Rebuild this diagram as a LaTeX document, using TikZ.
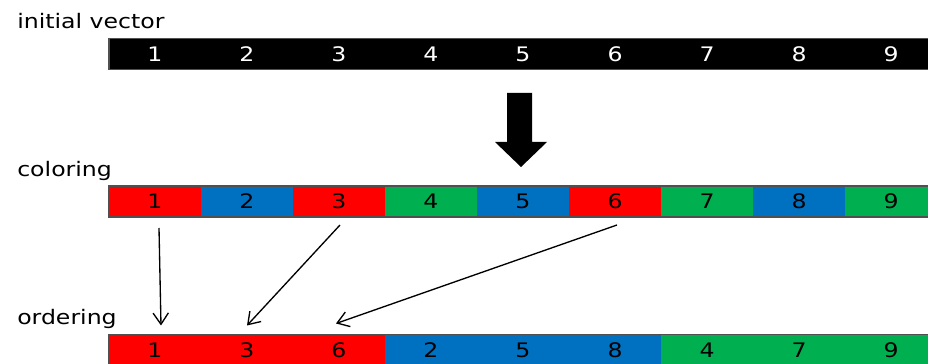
\documentclass[tikz,border=0pt]{standalone}
\usepackage{fontspec}
\setmainfont{DejaVu Sans}[FakeStretch=1.18]
\usetikzlibrary{arrows.meta,positioning}
\definecolor{cred}{HTML}{FF0000}
\definecolor{cblue}{HTML}{0070C0}
\definecolor{cgreen}{HTML}{00B050}
\definecolor{rim}{HTML}{505050}

\begin{document}
\begin{tikzpicture}[x=0.75pt,y=0.75pt,font=\fontsize{15}{18}\selectfont,
  cell/.style={anchor=west,minimum width=69pt,minimum height=23.25pt,inner sep=0pt,outer sep=0pt,text depth=0pt},
  rowname/.style={anchor=base west,inner sep=0pt},
  barrim/.style={draw=rim,line width=0.9pt},
  mapto/.style={-{Straight Barb[length=8.5pt,width=11.5pt]},line width=1pt}]
  \useasboundingbox (0,0) rectangle (928,364);
  \clip (0,0) rectangle (928,364);

  % initial vector
  \node[rowname] (lblinit) at (17,335.5) {initial vector};
  \foreach \k in {1,...,9}
    \node[cell,fill=black,text=white] (i\k) at ({109+92*(\k-1)},310) {\k};
  \draw[barrim] (i1.north west) rectangle (i9.south east);

  % big arrow down
  \fill (507,271) -- (532,271) -- (532,222) -- (547,222) -- (521,197)
    -- (495,222) -- (507,222) -- cycle;

  % coloring
  \node[rowname] (lblcol) at (17,187) {coloring};
  \foreach \n/\c [count=\k] in {1/cred,2/cblue,3/cred,4/cgreen,5/cblue,6/cred,7/cgreen,8/cblue,9/cgreen}
    \node[cell,fill=\c] (c\k) at ({109+92*(\k-1)},162.5) {\n};
  \draw[barrim] (c1.north west) rectangle (c9.south east);

  % ordering
  \node[rowname] (lblord) at (17,39) {ordering};
  \foreach \n/\c [count=\k] in {1/cred,3/cred,6/cred,2/cblue,5/cblue,8/cblue,4/cgreen,7/cgreen,9/cgreen}
    \node[cell,fill=\c] (o\k) at ({109+92*(\k-1)},14) {\n};
  \draw[barrim] (o1.north west) rectangle (o9.south east);

  % red entries moved to the front
  \draw[mapto] ([shift={(3pt,-8.25pt)}]c1.south) -- ([shift={(4.5pt,6.75pt)}]o1.north);
  \draw[mapto] ([shift={(0.75pt,-6pt)}]c3.south) -- ([shift={(0pt,6.75pt)}]o2.north);
  \draw[mapto] ([shift={(1.5pt,-6pt)}]c6.south) -- ([shift={(-2.25pt,8.25pt)}]o3.north);
\end{tikzpicture}
\end{document}
